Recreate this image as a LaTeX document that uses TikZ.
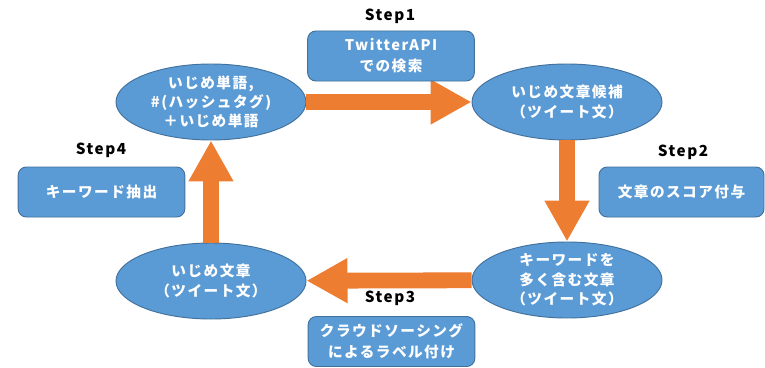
\documentclass[tikz,border=0pt]{standalone}
\usepackage{fontspec}
\setmainfont{Noto Sans CJK JP}[LetterSpace=10]
\usepackage{tikz}
\usetikzlibrary{arrows.meta}
\usetikzlibrary{shapes.geometric}
\definecolor{boxblue}{HTML}{5B9BD5}
\definecolor{boxedge}{HTML}{41719C}
\definecolor{floworange}{HTML}{ED7D31}
\tikzset{
  bubble/.style = {ellipse, draw=boxedge, fill=boxblue, line width=.8pt,
    minimum width=5.7cm, minimum height=2.28cm, inner sep=-20pt,
    text=white, align=center, font=\bfseries\fontsize{12.5}{16.5}\selectfont},
  task/.style = {rectangle, rounded corners=7pt, draw=boxedge, fill=boxblue,
    line width=.8pt, minimum width=5.0cm, minimum height=1.5cm,
    text=white, align=center, font=\bfseries\fontsize{12.5}{18}\selectfont},
  steplbl/.style = {font=\bfseries\fontsize{13}{15}\selectfont},
  flow/.style = {draw=floworange, line width=13.5pt,
    -{Triangle[width=36pt,length=35pt]}}
}

\begin{document}
\begin{tikzpicture} [x=.03cm, y=-.03cm]
    \useasboundingbox (0,0) rectangle (765,367);
    % cycle
    \node[bubble] (e1) at (211,102) {いじめ単語,\\\#(ハッシュタグ)\\＋いじめ単語};
    \node[bubble] (e2) at (567,102) {いじめ文章候補\\（ツイート文）};
    \node[bubble] (e3) at (567,280) {キーワードを\\多く含む文章\\（ツイート文）};
    \node[bubble] (e4) at (211,281) {いじめ文章\\（ツイート文）};
    \foreach \a/\b in {e1/e2, e2/e3, e3/e4, e4/e1} {
    \draw[flow] (\a) -- (\b);
    }
    % steps
    \node[steplbl] (s1) at (390,16) {Step1};
    \node[task] (t1) at (391,56) {TwitterAPI\\での検索};
    \node[steplbl] (s2) at (683,152) {Step2};
    \node[task, minimum width=4.95cm] (t2) at (681.5,192) {文章のスコア付与};
    \node[steplbl] (s3) at (390,298) {Step3};
    \node[task] (t3) at (391.5,341.5) {クラウドソーシング\\によるラベル付け};
    \node[steplbl] (s4) at (101,150) {Step4};
    \node[task] (t4) at (101.5,192) {キーワード抽出};
\end{tikzpicture}
\end{document}
